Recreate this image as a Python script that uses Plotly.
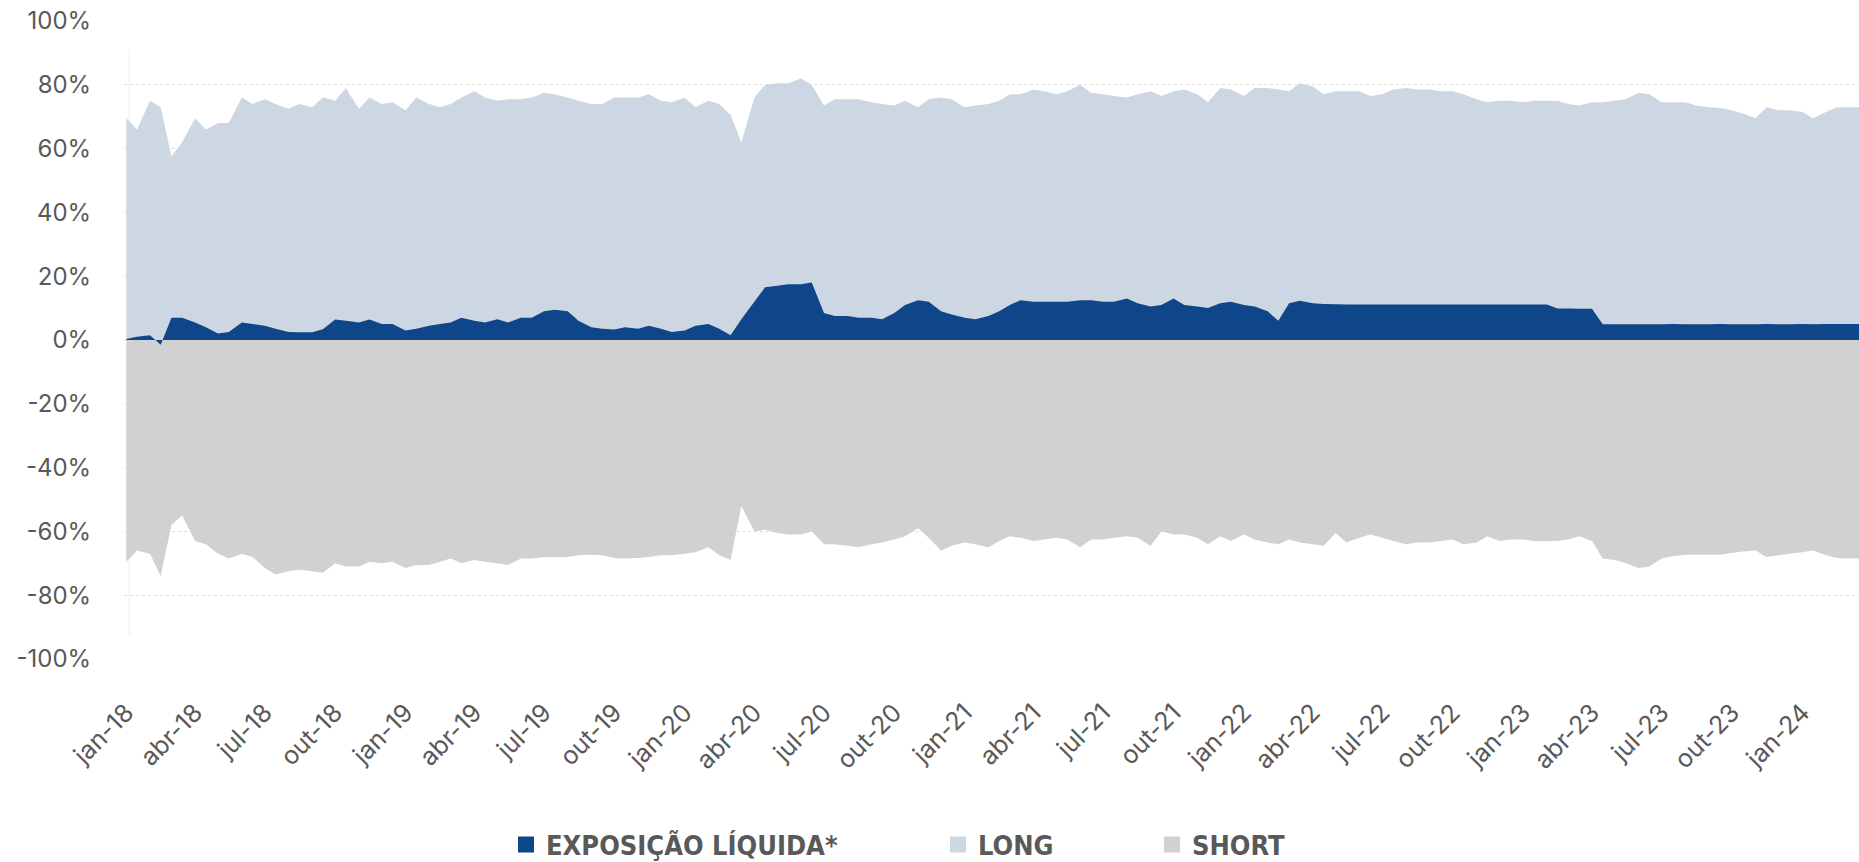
import pandas as pd
import plotly.graph_objects as go

# ---- data (semi-monthly readings, % of NAV) ----
dates = pd.date_range("2018-01-01", "2024-03-15", freq="SMS")

long_pct = [69.5, 66, 75, 73, 57.5, 62, 69.5, 66, 68, 68,
            76, 74, 75.5, 74, 72.5, 74, 73, 76, 75, 79,
            72.5, 76, 74, 74.5, 72, 76, 74, 73, 74, 76,
            78, 76, 75, 75.5, 75.5, 76, 77.5, 77, 76, 75,
            74, 74, 76, 76, 76, 77, 75, 74.5, 76, 73,
            75, 74, 70.5, 62, 76, 80, 80.5, 80.5, 82, 80,
            73.5, 75.5, 75.5, 75.5, 74.5, 74, 73.5, 75, 73, 75.5,
            76, 75.5, 73, 73.5, 74, 75, 77, 77, 78.5, 78,
            77, 78, 80, 77.5, 77, 76.5, 76, 77, 78, 76.5,
            78, 78.5, 77, 74.5, 79, 78.5, 76.5, 79, 79, 78.5,
            78, 80.5, 79.5, 77, 78, 78, 78, 76.5, 77, 78.5,
            79, 78.5, 78.5, 78, 78, 77, 75.5, 74.5, 75, 75,
            74.5, 75, 75, 75, 74, 73.5, 74.5, 74.5, 75, 75.5,
            77.5, 77, 74.5, 74.5, 74.5, 73.5, 73, 72.7, 72, 71,
            69.5, 73, 72, 72, 71.5, 69.5, 71.5, 73, 73, 73]

short_pct = [-69.5, -66, -67, -74, -58, -55, -63, -64, -67, -68.5,
             -67, -68, -71.5, -73.5, -72.5, -72, -72.5, -73, -70, -71,
             -71, -69.5, -70, -69.5, -71.5, -70.5, -70.5, -69.5, -68.5, -70,
             -69, -69.5, -70, -70.5, -68.5, -68.5, -68, -68, -68, -67.5,
             -67.3, -67.5, -68.3, -68.5, -68.3, -68, -67.5, -67.5, -67, -66.5,
             -65, -67.5, -69, -52, -60, -59.5, -60.5, -61, -61, -60,
             -64, -64, -64.5, -65, -64, -63.5, -62.5, -61.5, -59, -62,
             -66, -64.5, -63.5, -64, -65, -63, -61.5, -62, -63, -62.5,
             -62, -62.5, -65, -62.5, -62.5, -62, -61.5, -62, -64.5, -60,
             -61, -61, -62, -64, -61.5, -63, -61, -62.5, -63.5, -64,
             -62.5, -63.5, -64, -64.5, -60.5, -63.5, -62, -61, -62, -63,
             -64, -63.5, -63.5, -63, -62.5, -64, -63.5, -61.5, -63, -62.5,
             -62.5, -63, -63, -63, -62.5, -61.5, -63, -68.5, -69, -70,
             -71.5, -71, -68.5, -67.8, -67.3, -67.3, -67.3, -67.3, -66.8, -66.3,
             -66, -68, -67.5, -67, -66.5, -66, -67.5, -68.3, -68.5, -68.5]

net_pct = [0.3, 1.0, 1.5, -1.5, 7, 7, 5.5, 4, 2, 2.5,
           5.5, 5, 4.5, 3.5, 2.5, 2.4, 2.4, 3.4, 6.4, 6,
           5.5, 6.4, 5, 5, 3, 3.5, 4.5, 5, 5.5, 7,
           6, 5.5, 6.5, 5.5, 7, 7, 9, 9.5, 9, 6,
           4, 3.5, 3.3, 4, 3.5, 4.5, 3.5, 2.5, 3, 4.5,
           5, 3.5, 1.5, 6.5, 12, 16.5, 17, 17.5, 17.5, 18,
           8.5, 7.5, 7.5, 7, 7, 6.5, 8.5, 11, 12.5, 12,
           9, 8, 7, 6.5, 7.5, 9, 11, 12.5, 12, 12,
           12, 12, 12.5, 12.5, 12, 12, 13, 11.5, 10.5, 11,
           13, 11, 10.5, 10, 11.5, 12, 11, 10.5, 9, 6,
           11.5, 12.3, 11.5, 11.3, 11.2, 11.1, 11.1, 11.1, 11.1, 11.1,
           11.1, 11.1, 11.1, 11.1, 11.1, 11.1, 11.1, 11.1, 11.1, 11.1,
           11.1, 11.1, 11.1, 9.9, 9.9, 9.8, 9.8, 4.9, 4.9, 4.9,
           4.9, 4.9, 4.9, 5.0, 4.9, 4.9, 4.9, 5.0, 4.9, 4.9,
           4.9, 5.0, 4.9, 4.9, 5.0, 4.9, 5.0, 5.0, 5.0, 5.0]

# single-day outlier visible at the very start
spike_date = ["2018-01-05", "2018-01-05"]
spike_range = [-92.5, 91]

tick_dates = pd.date_range("2018-01-01", "2024-01-01", freq="QS")
tick_labels = ["jan-18", "abr-18", "jul-18", "out-18",
               "jan-19", "abr-19", "jul-19", "out-19",
               "jan-20", "abr-20", "jul-20", "out-20",
               "jan-21", "abr-21", "jul-21", "out-21",
               "jan-22", "abr-22", "jul-22", "out-22",
               "jan-23", "abr-23", "jul-23", "out-23",
               "jan-24"]
y_ticks = [-100, -80, -60, -40, -20, 0, 20, 40, 60, 80, 100]
y_labels = [f"{v}%" for v in y_ticks]

series_names = ["EXPOSIÇÃO LÍQUIDA*", "LONG", "SHORT"]
C_NET, C_LONG, C_SHORT = "#0F4589", "#CDD7E3", "#D1D1D1"

fig = go.Figure()
fig.add_trace(go.Scatter(x=spike_date, y=spike_range, mode="lines",
                         line=dict(color="#ececec", width=1),
                         showlegend=False, hoverinfo="skip"))
fig.add_trace(go.Scatter(x=dates, y=long_pct, mode="none", fill="tozeroy",
                         fillcolor=C_LONG, showlegend=False))
fig.add_trace(go.Scatter(x=dates, y=short_pct, mode="none", fill="tozeroy",
                         fillcolor=C_SHORT, showlegend=False))
fig.add_trace(go.Scatter(x=dates, y=net_pct, mode="none", fill="tozeroy",
                         fillcolor=C_NET, showlegend=False))

# legend entries (square swatches), one legend each for exact placement
legend_font = dict(family="DejaVu Sans Condensed, DejaVu Sans", size=27,
                   color="#595959", weight="bold")
for name, col, lg in zip(series_names, [C_NET, C_LONG, C_SHORT],
                         ["legend", "legend2", "legend3"]):
    fig.add_trace(go.Scatter(x=[None], y=[None], mode="markers", name=name,
                             marker=dict(symbol="square", size=19, color=col),
                             legend=lg, showlegend=True))

L, R, T, B = 124, 0, 21, 203
W, H = 1859, 862

leg_y = (H - 845) / H
common_leg = dict(orientation="h", yanchor="middle", y=leg_y, yref="container",
                  xanchor="left", xref="container",
                  font=legend_font, bgcolor="rgba(0,0,0,0)", borderwidth=0)

fig.update_layout(
    width=W, height=H,
    margin=dict(l=L, r=R, t=T, b=B, pad=0, autoexpand=False),
    paper_bgcolor="white", plot_bgcolor="white",
    font=dict(family="Inter, Lato, sans-serif", color="#595959"),
    legend=dict(x=506 / W, **common_leg),
    legend2=dict(x=938 / W, **common_leg),
    legend3=dict(x=1152 / W, **common_leg),
    hovermode=False,
)
fig.update_xaxes(
    type="date", range=["2017-12-29", "2024-03-15"],
    tickvals=tick_dates, ticktext=tick_labels, tickangle=-45,
    tickfont=dict(family="Inter, Lato, sans-serif", size=25, color="#595959"),
    ticks="outside", ticklen=28, tickcolor="rgba(0,0,0,0)",
    showgrid=False, showline=False, zeroline=False, automargin=False,
)
fig.update_yaxes(
    range=[-100, 100], tickvals=y_ticks, ticktext=y_labels,
    tickfont=dict(family="Inter, Lato, sans-serif", size=24, color="#595959"),
    ticks="outside", ticklen=27, tickcolor="rgba(0,0,0,0)",
    showgrid=True, gridcolor="rgba(140,140,140,0.28)", griddash="dot", gridwidth=1,
    zeroline=True, zerolinecolor="#eef1f5", zerolinewidth=1.5,
    showline=False, layer="above traces", automargin=False,
)

fig.write_html("out.html", config={"displayModeBar": False},
               post_script="document.body.style.margin='0';"
                           "document.documentElement.style.overflow='hidden';")
